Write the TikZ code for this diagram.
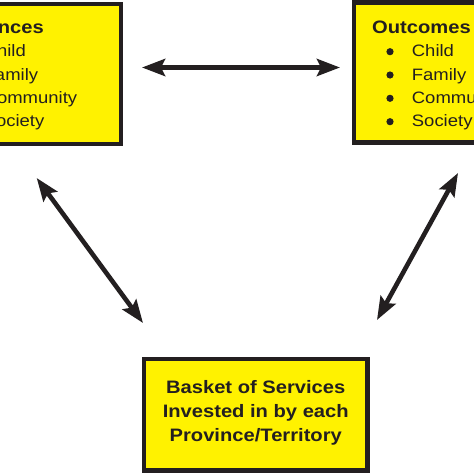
\documentclass[tikz,border=0pt]{standalone}
\usepackage{fontspec}
\setmainfont{Liberation Sans}[FakeStretch=1.12]
\usetikzlibrary{arrows.meta}
\definecolor{boxyellow}{RGB}{255,242,0}
\definecolor{ink}{RGB}{35,31,32}
\tikzset{
  box/.style={draw=ink, fill=boxyellow, line width=4.5pt, inner sep=0pt, rectangle},
  head/.style={inner sep=0pt, font=\fontsize{18}{22}\selectfont\bfseries, text=ink},
  item/.style={inner sep=0pt, font=\fontsize{16.5}{20}\selectfont, text=ink},
  btxt/.style={inner sep=0pt, anchor=base, font=\fontsize{18}{22}\selectfont\bfseries, text=ink},
  bul/.style={fill=ink, draw=none},
  arr/.style={draw=ink, line width=4.6pt, {Stealth[length=23pt,width=17pt,inset=4pt]}-{Stealth[length=23pt,width=17pt,inset=4pt]}}
}
\begin{document}
\begin{tikzpicture}[x=1pt,y=-1pt]
\clip (0,0) rectangle (474,474);
\fill[white] (0,0) rectangle (474,474);
% boxes
\node[box, minimum width=195pt, minimum height=140pt] (L) at (23.5,74) {};
\node[box, minimum width=195pt, minimum height=140pt] (R) at (451.5,72.5) {};
\node[box, minimum width=223.5pt, minimum height=111.5pt] (B) at (255.75,414.75) {};
% left box text
\node[head, anchor=base west] (Lh) at (-56.2,33.3) {Influences};
\node[item, anchor=base west] (L1) at (-16.5,56.7) {Child};
\node[item, anchor=base west] (L2) at (-16.5,80) {Family};
\node[item, anchor=base west] (L3) at (-16.5,103.3) {Community};
\node[item, anchor=base west] (L4) at (-16.5,126.7) {Society};
\foreach \yy in {56.7,80,103.3,126.7}{\fill[bul] (-38,\yy-5) circle (3.6pt);}
% right box text
\node[head, anchor=base west] (Rh) at (372,33.3) {Outcomes};
\node[item, anchor=base west] (R1) at (411.7,56.7) {Child};
\node[item, anchor=base west] (R2) at (411.7,80) {Family};
\node[item, anchor=base west] (R3) at (411.7,103.3) {Community};
\node[item, anchor=base west] (R4) at (411.7,126.7) {Society};
\foreach \yy in {56.7,80,103.3,126.7}{\fill[bul] (390,\yy-5) circle (3.6pt);}
% bottom box text
\node[btxt] (B1) at (255.75,393) {Basket of Services};
\node[btxt] (B2) at (255.75,417) {Invested in by each};
\node[btxt] (B3) at (255.75,441) {Province/Territory};
% arrow ends
\coordinate (hL) at (142,67.5);
\coordinate (hR) at (340,67.5);
\coordinate (dL1) at (36.7,178);
\coordinate (dL2) at (143,323);
\coordinate (dR1) at (458,173);
\coordinate (dR2) at (377,320);
\draw[arr] (hL) -- (hR);
\draw[arr] (dL1) -- (dL2);
\draw[arr] (dR1) -- (dR2);
\end{tikzpicture}
\end{document}
